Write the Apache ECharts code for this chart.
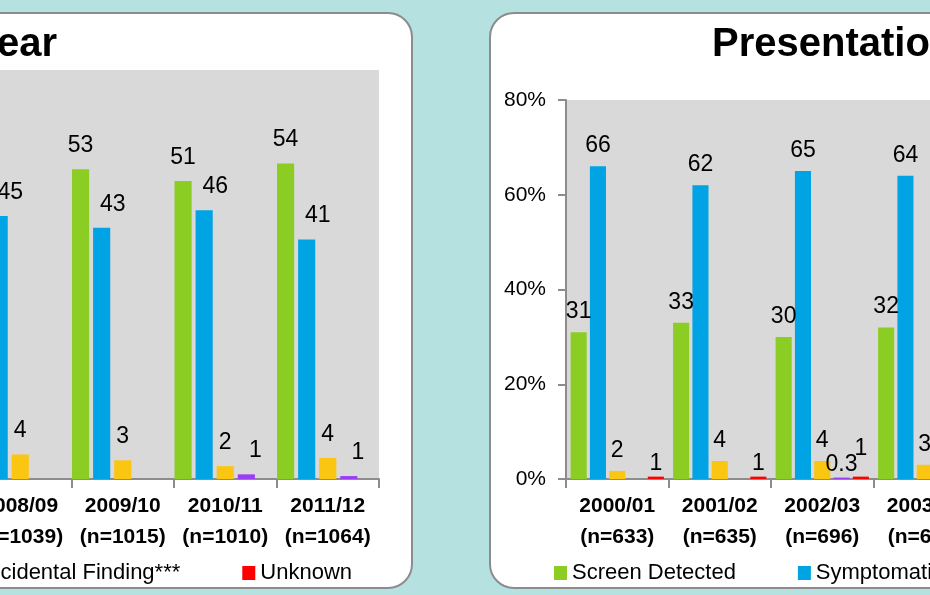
<!DOCTYPE html>
<html>
<head>
<meta charset="utf-8">
<script src="https://cdn.jsdelivr.net/npm/echarts@6/dist/echarts.min.js"></script>
<style>
  html, body { margin: 0; padding: 0; overflow: hidden; background: #b5e1e1; }
  #chart-container { width: 930px; height: 595px; }
</style>
</head>
<body>
<div id="chart-container"></div>
<script>
var myChart = echarts.init(document.getElementById('chart-container'));

const FONT = "'Liberation Sans', Arial, sans-serif";

// --- data ---
const seriesNames = ['Screen Detected', 'Symptomatic', 'Incidental Finding***', 'Other', 'Unknown'];
const legendNames = ['Screen Detected', 'Symptomatic', 'Incidental Finding***', 'Unknown'];
const seriesColors = ['#8ccd23', '#00a3e4', '#fbc612', '#9b3df2', '#ff0000'];

// left panel (later years)
const leftCats = ['2008/09\n(n=1039)', '2009/10\n(n=1015)', '2010/11\n(n=1010)', '2011/12\n(n=1064)'];
const leftScreen = [51, 53, 51, 54];
const leftSympt = [45, 43, 46, 41];
const leftIncid = [4.2, 3.2, 2.2, 3.6];
const leftOther = [null, null, 0.8, 0.5];
const leftUnknown = [null, null, null, null];

// right panel (early years)
const rightCats = ['2000/01\n(n=633)', '2001/02\n(n=635)', '2002/03\n(n=696)', '2003/04\n(n=652)'];
const rightScreen = [31, 33, 30, 32];
const rightSympt = [66, 62, 65, 64];
const rightIncid = [1.7, 3.8, 3.8, 3.0];
const rightOther = [null, null, 0.3, null];
const rightUnknown = [0.5, 0.5, 0.5, 0.5];

const leftData = [leftScreen, leftSympt, leftIncid, leftOther, leftUnknown];
const rightData = [rightScreen, rightSympt, rightIncid, rightOther, rightUnknown];

function fmt(p) {
    return p.value < 0.5 ? p.value : Math.round(p.value);
}

function barLabel(dist, offX) {
    return { show: true, position: 'top', distance: dist, offset: [offX || 0, 0],
             fontSize: 23, fontFamily: FONT, color: '#000', formatter: fmt };
}

// label nudges in the left panel (symptomatic / other sit right of their bars)
const leftLabelShift = [0, 11, 0, 9, 0];

let series = [];
seriesNames.forEach(function (name, i) {
    series.push({
        name: name, type: 'bar', xAxisIndex: 0, yAxisIndex: 0,
        data: leftData[i],
        itemStyle: { color: seriesColors[i] },
        barGap: '23%', barCategoryGap: '1%',
        label: barLabel(12, leftLabelShift[i])
    });
});
seriesNames.forEach(function (name, i) {
    let d = rightData[i];
    if (name === 'Unknown') {
        // label lifted above the 0.3 label in 2002/03
        d = d.map((v, j) => j === 2 ? { value: v, label: { distance: 16 } } : v);
    }
    series.push({
        name: name, type: 'bar', xAxisIndex: 1, yAxisIndex: 1,
        data: d,
        itemStyle: { color: seriesColors[i] },
        barGap: '20%', barCategoryGap: '9%',
        label: barLabel(i >= 3 ? 1 : 9)
    });
});

const axisLine = { show: true, lineStyle: { color: '#8c8c8c', width: 2 } };
const catLabel = { fontSize: 21, fontWeight: 'bold', fontFamily: FONT, color: '#000', lineHeight: 31, margin: 12, interval: 0 };
const legendBase = {
    data: legendNames, top: 562, padding: 0, icon: 'rect', width: 1600,
    itemWidth: 13, itemHeight: 14, itemGap: 62,
    textStyle: { fontSize: 22, fontFamily: FONT, color: '#000' }
};

const option = {
    backgroundColor: '#b5e1e1',
    animation: false,
    graphic: [
        { type: 'rect', z: -10, shape: { x: -300, y: 13, width: 712, height: 575, r: 24 },
          style: { fill: '#fff', stroke: '#8c8c8c', lineWidth: 2 } },
        { type: 'rect', z: -10, shape: { x: 490, y: 13, width: 700, height: 575, r: 24 },
          style: { fill: '#fff', stroke: '#8c8c8c', lineWidth: 2 } },
        { type: 'text', z: 10, x: 57, y: 45,
          style: { text: 'Presentation by Year', fontSize: 40, fontWeight: 'bold', fontFamily: FONT,
                   fill: '#000', align: 'right', verticalAlign: 'middle' } },
        { type: 'text', z: 10, x: 712, y: 45,
          style: { text: 'Presentation by Year', fontSize: 40, fontWeight: 'bold', fontFamily: FONT,
                   fill: '#000', align: 'left', verticalAlign: 'middle' } }
    ],
    legend: [
        Object.assign({}, legendBase, { right: 578 }),
        Object.assign({}, legendBase, { left: 554 })
    ],
    grid: [
        { left: -31, top: 70, width: 410, bottom: 116, show: true, backgroundColor: '#d9d9d9', borderWidth: 0, outerBoundsMode: 'none' },
        { left: 566, top: 100, width: 410, bottom: 116, show: true, backgroundColor: '#d9d9d9', borderWidth: 0, outerBoundsMode: 'none' }
    ],
    xAxis: [
        { type: 'category', gridIndex: 0, data: leftCats, axisLine: axisLine,
          axisTick: { show: true, length: 9, lineStyle: { color: '#8c8c8c', width: 2 } }, axisLabel: catLabel },
        { type: 'category', gridIndex: 1, data: rightCats, axisLine: axisLine,
          axisTick: { show: true, length: 9, lineStyle: { color: '#8c8c8c', width: 2 } }, axisLabel: catLabel }
    ],
    yAxis: [
        { type: 'value', gridIndex: 0, min: 0, max: 70, interval: 10, splitLine: { show: false },
          axisLine: axisLine, axisTick: { show: true, length: 8, lineStyle: { color: '#8c8c8c', width: 2 } },
          axisLabel: { formatter: '{value}%', fontSize: 21, fontFamily: FONT, color: '#000', margin: 20 } },
        { type: 'value', gridIndex: 1, min: 0, max: 80, interval: 20, splitLine: { show: false },
          axisLine: axisLine, axisTick: { show: true, length: 8, lineStyle: { color: '#8c8c8c', width: 2 } },
          axisLabel: { formatter: '{value}%', fontSize: 21, fontFamily: FONT, color: '#000', margin: 20 } }
    ],
    series: series
};

myChart.setOption(option);

window.addEventListener('resize', function () {
    myChart.resize();
});
</script>
</body>
</html>
